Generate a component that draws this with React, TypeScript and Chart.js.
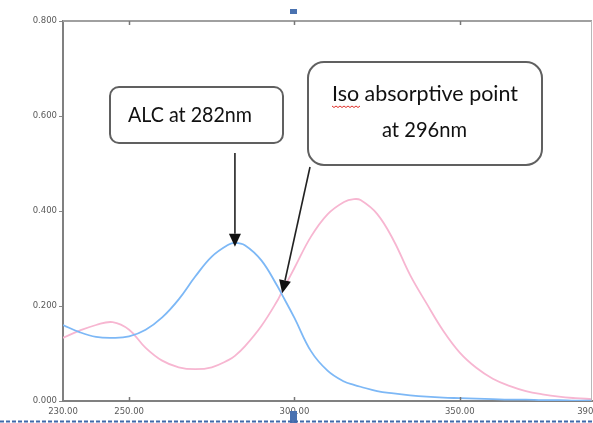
import React, { useEffect, useRef } from "react";
import { Chart, registerables } from "chart.js";

Chart.register(...registerables);

// Wavelength (nm)
const wavelengths = [230, 235, 240, 245, 250, 255, 260, 265, 270, 275, 280, 282, 285, 290, 295, 296, 300, 305, 310, 315, 318, 320, 325, 330, 335, 340, 345, 350, 355, 360, 365, 370, 375, 380, 385, 390];
// ALC spectrum (blue)
const alcAbs = [0.160, 0.145, 0.135, 0.133, 0.136, 0.150, 0.176, 0.214, 0.262, 0.304, 0.329, 0.333, 0.328, 0.296, 0.240, 0.227, 0.175, 0.105, 0.064, 0.041, 0.034, 0.030, 0.021, 0.016, 0.012, 0.009, 0.007, 0.006, 0.005, 0.004, 0.003, 0.003, 0.002, 0.002, 0.001, 0.001];
// Second spectrum (pink)
const otherAbs = [0.133, 0.148, 0.160, 0.166, 0.150, 0.112, 0.085, 0.071, 0.067, 0.071, 0.086, 0.095, 0.115, 0.158, 0.213, 0.227, 0.280, 0.346, 0.393, 0.419, 0.425, 0.423, 0.394, 0.338, 0.265, 0.205, 0.148, 0.102, 0.070, 0.047, 0.032, 0.021, 0.014, 0.009, 0.006, 0.004];

const xTicks = [230, 250, 300, 350, 390];
const innerTicks = [250, 300, 350];
const yTicks = [0, 0.2, 0.4, 0.6, 0.8];

const alcPeak = { x: 282, y: 0.333 };
const isoPoint = { x: 296, y: 0.227 };
const label1 = "ALC at 282nm";
const label2a = "Iso absorptive point";
const label2b = "at 296nm";

function fitText(ctx: CanvasRenderingContext2D, text: string, x: number, y: number, w: number) {
  const m = ctx.measureText(text).width;
  ctx.save();
  ctx.translate(x, y);
  ctx.scale(w / m, 1);
  ctx.fillText(text, 0, 0);
  ctx.restore();
}

function arrow(ctx: CanvasRenderingContext2D, x1: number, y1: number, x2: number, y2: number) {
  const ang = Math.atan2(y2 - y1, x2 - x1);
  const len = 13, half = 6;
  const bx = x2 - Math.cos(ang) * len, by = y2 - Math.sin(ang) * len;
  ctx.strokeStyle = "#222";
  ctx.lineWidth = 1.6;
  ctx.beginPath();
  ctx.moveTo(x1, y1);
  ctx.lineTo(bx, by);
  ctx.stroke();
  ctx.fillStyle = "#111";
  ctx.beginPath();
  ctx.moveTo(x2, y2);
  ctx.lineTo(bx + Math.sin(ang) * half, by - Math.cos(ang) * half);
  ctx.lineTo(bx - Math.sin(ang) * half, by + Math.cos(ang) * half);
  ctx.closePath();
  ctx.fill();
}

const overlayPlugin = {
  id: "overlay",
  afterDraw(chart: any) {
    const ctx: CanvasRenderingContext2D = chart.ctx;
    const xs = chart.scales.x, ys = chart.scales.y;
    const { left, right, top, bottom } = chart.chartArea;
    ctx.save();
    // frame top/right
    ctx.strokeStyle = "#a0a0a0";
    ctx.lineWidth = 2;
    ctx.beginPath();
    ctx.moveTo(left, top);
    ctx.lineTo(right, top);
    ctx.stroke();
    ctx.strokeStyle = "#b8b8b8";
    ctx.lineWidth = 1;
    ctx.beginPath();
    ctx.moveTo(right - 0.5, top);
    ctx.lineTo(right - 0.5, bottom);
    ctx.stroke();
    // inner ticks
    ctx.strokeStyle = "#777";
    ctx.lineWidth = 1.5;
    for (const v of innerTicks) {
      const px = Math.round(xs.getPixelForValue(v)) + 0.5;
      ctx.beginPath();
      ctx.moveTo(px, bottom);
      ctx.lineTo(px, bottom - 4);
      ctx.moveTo(px, top);
      ctx.lineTo(px, top + 4);
      ctx.stroke();
    }
    // boxes
    ctx.fillStyle = "#fff";
    ctx.strokeStyle = "#606060";
    ctx.lineWidth = 2;
    ctx.beginPath();
    (ctx as any).roundRect(110, 87, 173, 56, 9);
    ctx.fill();
    ctx.stroke();
    ctx.beginPath();
    (ctx as any).roundRect(308, 62, 234, 103, 16);
    ctx.fill();
    ctx.stroke();
    // texts
    ctx.fillStyle = "#111";
    ctx.font = "21px Lato";
    ctx.textAlign = "left";
    ctx.textBaseline = "alphabetic";
    fitText(ctx, label1, 128, 122, 124);
    fitText(ctx, label2a, 332, 101, 186);
    fitText(ctx, label2b, 382, 137, 85);
    // spell-check squiggle under "Iso"
    ctx.strokeStyle = "#e0302a";
    ctx.lineWidth = 1;
    ctx.beginPath();
    for (let i = 0; i <= 14; i++) {
      const x = 332 + i * 2;
      const y = 106 + (i % 2 === 0 ? 0 : 1.5);
      if (i === 0) ctx.moveTo(x, y); else ctx.lineTo(x, y);
    }
    ctx.stroke();
    // arrows
    const p1x = xs.getPixelForValue(alcPeak.x), p1y = ys.getPixelForValue(alcPeak.y);
    arrow(ctx, p1x, 153, p1x, p1y + 4);
    const p2x = xs.getPixelForValue(isoPoint.x), p2y = ys.getPixelForValue(isoPoint.y);
    arrow(ctx, 310, 167, p2x + 1, p2y);
    // page artifacts
    ctx.fillStyle = "#4a72b0";
    ctx.fillRect(290, 9, 7, 5);
    ctx.fillRect(290, 411, 7, 12);
    ctx.strokeStyle = "#3f68aa";
    ctx.lineWidth = 2;
    ctx.setLineDash([4, 2]);
    ctx.beginPath();
    ctx.moveTo(0, 421.5);
    ctx.lineTo(593, 421.5);
    ctx.stroke();
    ctx.setLineDash([]);
    ctx.restore();
  },
};

export default function App() {
  const ref = useRef<HTMLCanvasElement | null>(null);
  useEffect(() => {
    if (!ref.current) return;
    const mk = (arr: number[]) => wavelengths.map((w, i) => ({ x: w, y: arr[i] }));
    const chart = new Chart(ref.current, {
      type: "line",
      data: {
        datasets: [
          { label: "ALC", data: mk(alcAbs), borderColor: "#7db8f6", borderWidth: 1.8, pointRadius: 0, tension: 0.4, fill: false },
          { label: "Other", data: mk(otherAbs), borderColor: "#f7b6d1", borderWidth: 1.8, pointRadius: 0, tension: 0.4, fill: false },
        ],
      },
      options: {
        animation: false,
        responsive: false,
        devicePixelRatio: 1,
        layout: { autoPadding: false, padding: { left: 0, top: 21, right: 1, bottom: 0 } },
        plugins: { legend: { display: false }, tooltip: { enabled: false } },
        scales: {
          x: {
            type: "linear",
            min: 230,
            max: 390,
            afterBuildTicks: (s: any) => { s.ticks = xTicks.map((v) => ({ value: v })); },
            afterFit: (s: any) => { s.height = 22; s.paddingLeft = 0; s.paddingRight = 0; s.paddingTop = 0; s.paddingBottom = 0; },
            grid: { display: false, drawTicks: false },
            border: { display: true, color: "#808080", width: 2 },
            ticks: { color: "#5a5a5a", padding: 6, maxRotation: 0, autoSkip: false, font: { family: "DejaVu Sans", size: 8.5 }, callback: (v: any) => Number(v).toFixed(2) },
          },
          y: {
            min: 0,
            max: 0.8,
            afterBuildTicks: (s: any) => { s.ticks = yTicks.map((v) => ({ value: v })); },
            afterFit: (s: any) => { s.width = 63; s.paddingLeft = 0; s.paddingRight = 0; s.paddingTop = 0; s.paddingBottom = 0; },
            grid: { display: true, drawOnChartArea: false, drawTicks: true, tickLength: 4, color: "#888" },
            border: { display: true, color: "#808080", width: 2 },
            ticks: { color: "#5a5a5a", padding: 2, font: { family: "DejaVu Sans", size: 8.5 }, callback: (v: any) => Number(v).toFixed(3) },
          },
        },
      },
      plugins: [overlayPlugin],
    } as any);
    return () => chart.destroy();
  }, []);
  return (
    <div style={{ position: "absolute", left: 0, top: 0, width: 593, height: 423, background: "#fff" }}>
      <canvas ref={ref} width={593} height={423} style={{ display: "block" }} />
    </div>
  );
}
